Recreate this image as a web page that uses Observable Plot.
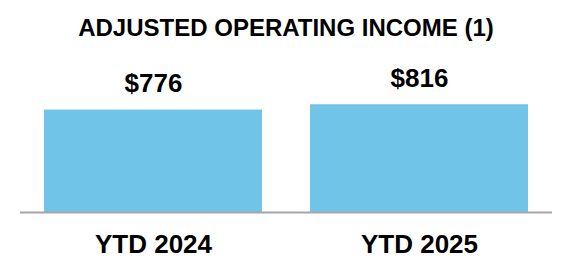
<!DOCTYPE html>
<html>
<head>
<meta charset="utf-8">
<script src="https://cdn.jsdelivr.net/npm/d3@7"></script>
<script src="https://cdn.jsdelivr.net/npm/@observablehq/plot@0.6"></script>
<style>
  html, body { margin: 0; padding: 0; background: #fff; }
  body { width: 572px; height: 280px; overflow: hidden; font-family: "Liberation Sans", Arial, sans-serif; }
  #title { box-sizing: border-box; height: 50px; padding-top: 16px; line-height: 24px; font-size: 24px; font-weight: bold; text-align: center; color: #000; }
  #chart svg { display: block; }
</style>
</head>
<body>
<div id="title">ADJUSTED OPERATING INCOME (1)</div>
<div id="chart"></div>
<script>
const categories = ["YTD 2024", "YTD 2025"];
const values = [776, 816];
const valueLabels = ["$776", "$816"];

const data = categories.map((c, i) => ({category: c, value: values[i], label: valueLabels[i]}));

const chart = Plot.plot({
  width: 572,
  height: 230,
  marginLeft: 20,
  marginRight: 20,
  marginTop: 0,
  marginBottom: 68,
  style: {fontFamily: "'Liberation Sans', Arial, sans-serif", background: "#fff", color: "#000"},
  x: {domain: categories, paddingInner: 0.1805, paddingOuter: 0.0902, label: null},
  y: {domain: [0, 1227], axis: null},
  marks: [
    Plot.barY(data, {x: "category", y: "value", fill: "#70C4E8"}),
    Plot.ruleY([0], {stroke: "#A6A6A6", strokeWidth: 2}),
    Plot.text(data, {x: "category", y: "value", text: "label", lineAnchor: "bottom", dy: -18, fontSize: 26, fontWeight: "bold", fill: "#000"}),
    Plot.axisX({tickSize: 0, tickPadding: 22, fontSize: 26, fontWeight: "bold", label: null, color: "#000"})
  ]
});
document.getElementById("chart").appendChild(chart);
</script>
</body>
</html>
